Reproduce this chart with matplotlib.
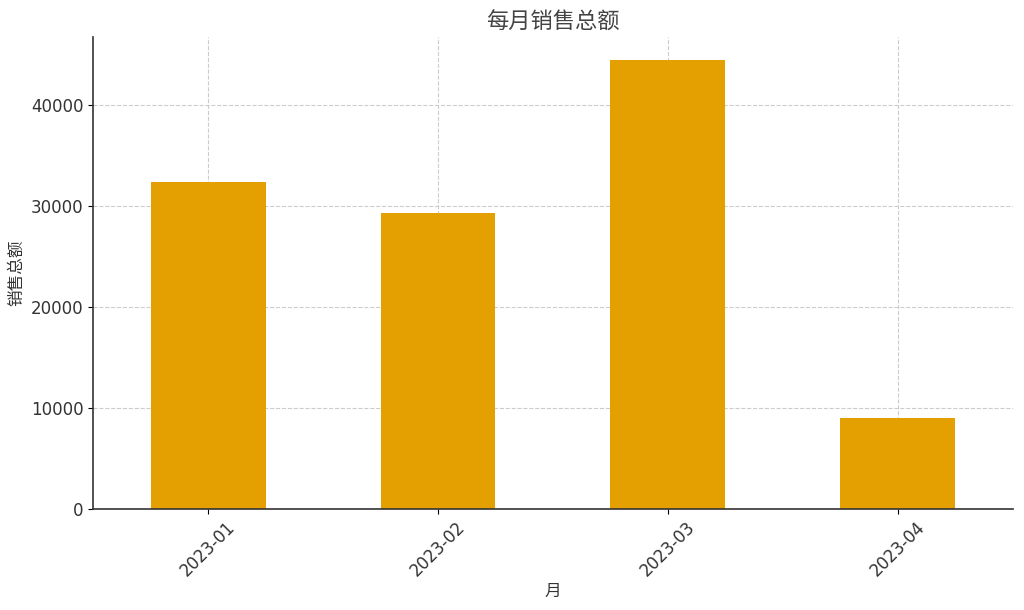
import matplotlib
matplotlib.use("Agg")
import matplotlib.pyplot as plt

plt.rcParams['font.family'] = ['DejaVu Sans', 'Noto Sans CJK SC']

MONTHS = ["2023-01", "2023-02", "2023-03", "2023-04"]
SALES = [32300, 29250, 44450, 8990]

TITLE = "每月销售总额"
XLABEL = "月"
YLABEL = "销售总额"

fig, ax = plt.subplots(figsize=(10.24, 6.1), dpi=100)
ax.bar(range(len(MONTHS)), SALES, width=0.5, color="#E3A000", zorder=2)
ax.set_xlim(-0.5, len(MONTHS) - 0.5)
ax.set_xticks(range(len(MONTHS)))
ax.set_xticklabels(MONTHS, rotation=45, fontsize=12, color="#333333")
ax.tick_params(axis="y", labelsize=12, labelcolor="#333333")
ax.set_title(TITLE, fontsize=16, color="#444444")
ax.set_xlabel(XLABEL, fontsize=12, color="#333333", labelpad=1)
ax.set_ylabel(YLABEL, fontsize=12, color="#333333")
ax.grid(True, linestyle="--", color="#cccccc", linewidth=0.8, zorder=0)
ax.spines["top"].set_visible(False)
ax.spines["right"].set_visible(False)
for s in ("left", "bottom"):
    ax.spines[s].set_color("#333333")
    ax.spines[s].set_linewidth(1.2)

fig.subplots_adjust(left=0.091, right=0.989, top=0.939, bottom=0.166)
fig.savefig("out.png", dpi=100)
